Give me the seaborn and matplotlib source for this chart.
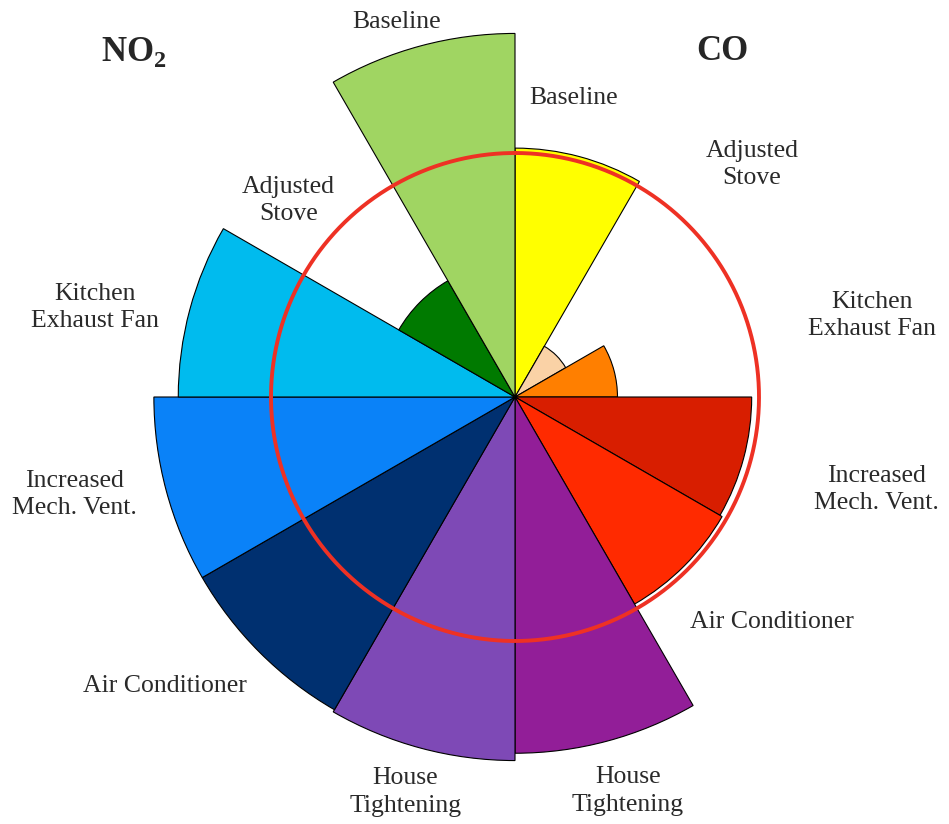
import numpy as np
import matplotlib
matplotlib.use('Agg')
import matplotlib.pyplot as plt
import seaborn as sns

# wedges clockwise from 12 o'clock, radius relative to the red reference circle
categories = ['Baseline', 'Adjusted\nStove', 'Kitchen\nExhaust Fan', 'Increased\nMech. Vent.',
              'Air Conditioner', 'House\nTightening',
              'House\nTightening', 'Air Conditioner', 'Increased\nMech. Vent.',
              'Kitchen\nExhaust Fan', 'Adjusted\nStove', 'Baseline']
co_values = [1.02, 0.24, 0.42, 0.97, 0.98, 1.46]
no2_values = [1.49, 1.48, 1.48, 1.38, 0.55, 1.49]
wedge_colors = ['#FFFF00', '#FAD2A6', '#FF7F00', '#D81E00', '#FF2A00', '#921E98',
                '#7E49B6', '#003070', '#0A82F8', '#00BBEE', '#007A00', '#A0D562']

# label positions (angle in degrees clockwise from top, radius)
label_angles = [11.0, 45.6, 77.1, 104.3, 131.3, 164.0, 195.5, 230.4, 257.5, 282.0, 311.0, 342.5]
label_radius = [1.25, 1.36, 1.50, 1.53, 1.40, 1.68, 1.68, 1.86, 1.85, 1.76, 1.23, 1.61]

sns.set_theme(style='white')
plt.rcParams['font.family'] = ['Liberation Serif', 'DejaVu Serif']
plt.rcParams['mathtext.fontset'] = 'custom'
plt.rcParams['mathtext.rm'] = 'Liberation Serif'
plt.rcParams['mathtext.bf'] = 'Liberation Serif:bold'

W, H = 949, 824
cx, cy = 515, 427          # centre, pixels from bottom
unit = 244                 # pixels per unit radius
rmax = 1.62

fig = plt.figure(figsize=(W / 100, H / 100), dpi=100)
ax = fig.add_axes([(cx - rmax * unit) / W, (cy - rmax * unit) / H,
                   2 * rmax * unit / W, 2 * rmax * unit / H], projection='polar')
ax.set_theta_zero_location('N')
ax.set_theta_direction(-1)

values = co_values + no2_values
n = len(values)
width = 2 * np.pi / n
theta = np.arange(n) * width + width / 2
ax.bar(theta, values, width=width, color=wedge_colors, edgecolor='black',
       linewidth=0.8, align='center', zorder=2)

circ = np.linspace(0, 2 * np.pi, 400)
ax.plot(circ, np.ones_like(circ), color='#EE3124', linewidth=2.8, zorder=3)

ax.set_ylim(0, rmax)
ax.set_xticks([])
ax.set_yticks([])
ax.grid(False)
ax.spines['polar'].set_visible(False)
ax.set_facecolor('none')

for lab, a, r in zip(categories, label_angles, label_radius):
    ax.text(np.deg2rad(a), r, lab, ha='center', va='center', fontsize=18.5,
            color='#2a2a2a', linespacing=1.3)

fig.text(134 / W, 1 - 52 / H, r'NO$_\mathbf{2}$', ha='center', va='center',
         fontsize=25, fontweight='bold')
fig.text(722 / W, 1 - 52 / H, 'CO', ha='center', va='center',
         fontsize=25, fontweight='bold')

fig.savefig('out.png', dpi=100)
